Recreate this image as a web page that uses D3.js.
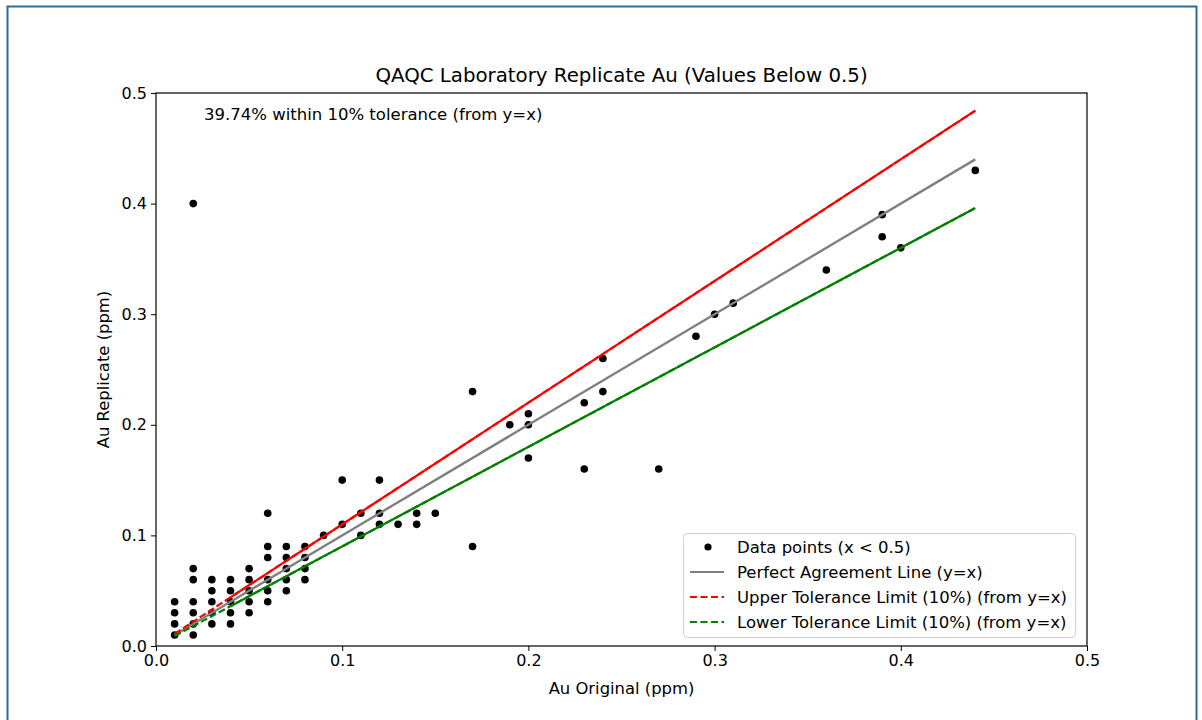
<!DOCTYPE html>
<html><head><meta charset="utf-8">
<script src="https://cdn.jsdelivr.net/npm/d3@7"></script>
<style>
body{margin:0;background:#fff;font-family:"DejaVu Sans",sans-serif;}
svg{display:block}
</style></head><body>
<svg id="c" width="1202" height="720"></svg>
<script>
// Data points (Au Original, Au Replicate) in ppm, values below 0.5
const xOriginal = [
 0.01,0.01,0.01,0.01,
 0.02,0.02,0.02,0.02,0.02,0.02,0.02,
 0.03,0.03,0.03,0.03,0.03,
 0.04,0.04,0.04,0.04,0.04,
 0.05,0.05,0.05,0.05,0.05,
 0.06,0.06,0.06,0.06,0.06,0.06,
 0.07,0.07,0.07,0.07,0.07,
 0.08,0.08,0.08,0.08,
 0.09,
 0.10,0.10,
 0.11,0.11,
 0.12,0.12,0.12,
 0.13,
 0.14,0.14,
 0.15,
 0.17,0.17,
 0.19,
 0.20,0.20,0.20,
 0.23,0.23,
 0.24,0.24,
 0.27,
 0.29,
 0.30,
 0.31,
 0.36,
 0.39,0.39,
 0.40,
 0.44
];
const yReplicate = [
 0.01,0.02,0.03,0.04,
 0.01,0.02,0.03,0.04,0.06,0.07,0.40,
 0.02,0.03,0.04,0.05,0.06,
 0.02,0.03,0.04,0.05,0.06,
 0.03,0.04,0.05,0.06,0.07,
 0.04,0.05,0.06,0.08,0.09,0.12,
 0.05,0.06,0.07,0.08,0.09,
 0.06,0.07,0.08,0.09,
 0.10,
 0.11,0.15,
 0.10,0.12,
 0.11,0.12,0.15,
 0.11,
 0.11,0.12,
 0.12,
 0.09,0.23,
 0.20,
 0.17,0.20,0.21,
 0.16,0.22,
 0.23,0.26,
 0.16,
 0.28,
 0.30,
 0.31,
 0.34,
 0.37,0.39,
 0.36,
 0.43
];
const xTicks = [0.0,0.1,0.2,0.3,0.4,0.5];
const yTicks = [0.0,0.1,0.2,0.3,0.4,0.5];
const tolerance = 0.10;
const pctText = "39.74% within 10% tolerance (from y=x)";
const titleText = "QAQC Laboratory Replicate Au (Values Below 0.5)";
const xLabel = "Au Original (ppm)";
const yLabel = "Au Replicate (ppm)";
const legendLabels = ["Data points (x < 0.5)","Perfect Agreement Line (y=x)","Upper Tolerance Limit (10%) (from y=x)","Lower Tolerance Limit (10%) (from y=x)"];

const svg = d3.select("#c");
// outer frame
svg.append("rect").attr("x",7.5).attr("y",6.5).attr("width",1189).attr("height",740)
  .attr("fill","none").attr("stroke","#2f6a99").attr("stroke-width",2);

const L=156, R=1087, T=93, B=646;
const x = d3.scaleLinear().domain([0,0.5]).range([L,R]);
const y = d3.scaleLinear().domain([0,0.5]).range([B,T]);

const g = svg.append("g");

// points
g.append("g").selectAll("circle").data(xOriginal.map((v,i)=>[v,yReplicate[i]])).join("circle")
  .attr("cx",d=>x(d[0])).attr("cy",d=>y(d[1])).attr("r",3.8).attr("fill","#000");

const ext = d3.extent(xOriginal);
const solidStart = 0.04;
function seg(k, x0, x1){ return [[x(x0), y(k*x0)],[x(x1), y(k*x1)]]; }
const line = d3.line();
g.append("path").attr("d",line(seg(1,ext[0],ext[1]))).attr("stroke","#808080").attr("stroke-width",2.4).attr("fill","none");
[[1+tolerance,"#ff0000"],[1-tolerance,"#008000"]].forEach(([k,c])=>{
  g.append("path").attr("d",line(seg(k,ext[0],ext[1]))).attr("stroke",c).attr("stroke-width",2.2)
   .attr("fill","none").attr("stroke-dasharray","7,3");
  g.append("path").attr("d",line(seg(k,solidStart,ext[1]))).attr("stroke",c).attr("stroke-width",2.2)
   .attr("fill","none");
});

// axes
const fmt = d=>d3.format(".1f")(d);
const xa = svg.append("g").attr("transform",`translate(0,${B})`).call(d3.axisBottom(x).tickValues(xTicks).tickFormat(fmt).tickSize(5).tickPadding(4));
const ya = svg.append("g").attr("transform",`translate(${L},0)`).call(d3.axisLeft(y).tickValues(yTicks).tickFormat(fmt).tickSize(5).tickPadding(4));
[xa,ya].forEach(a=>{a.select(".domain").remove();a.selectAll("text").attr("font-family","DejaVu Sans").attr("font-size",16).attr("fill","#000");a.selectAll("line").attr("stroke","#000").attr("stroke-width",1);});
svg.append("rect").attr("x",L).attr("y",T).attr("width",R-L).attr("height",B-T).attr("fill","none").attr("stroke","#000").attr("stroke-width",1.2);

// texts
svg.append("text").attr("x",(L+R)/2).attr("y",82).attr("text-anchor","middle").attr("font-size",19.8).attr("font-family","DejaVu Sans").text(titleText);
svg.append("text").attr("x",(L+R)/2).attr("y",694).attr("text-anchor","middle").attr("font-size",16.4).attr("font-family","DejaVu Sans").text(xLabel);
svg.append("text").attr("transform",`translate(109,${(T+B)/2}) rotate(-90)`).attr("text-anchor","middle").attr("font-size",16.4).attr("font-family","DejaVu Sans").text(yLabel);
svg.append("text").attr("x",204).attr("y",120).attr("font-size",16.5).attr("font-family","DejaVu Sans").text(pctText);

// legend
const lg = svg.append("g");
lg.append("rect").attr("x",683.5).attr("y",533.5).attr("width",392).attr("height",104).attr("rx",4)
  .attr("fill","#fff").attr("fill-opacity",0.8).attr("stroke","#d0d0d0");
const rows = [547,572,597,622];
legendLabels.forEach((t,i)=>{
  const yy=rows[i];
  if(i===0) lg.append("circle").attr("cx",708).attr("cy",yy).attr("r",3.6).attr("fill","#000");
  else {
    const col = ["#808080","#ff0000","#008000"][i-1];
    lg.append("line").attr("x1",690).attr("x2",724).attr("y1",yy).attr("y2",yy).attr("stroke",col).attr("stroke-width",2)
      .attr("stroke-dasharray", i===1?null:"7,3.5");
  }
  lg.append("text").attr("x",737).attr("y",yy+5.5).attr("font-size",16.5).attr("font-family","DejaVu Sans").text(t);
});
</script></body></html>
